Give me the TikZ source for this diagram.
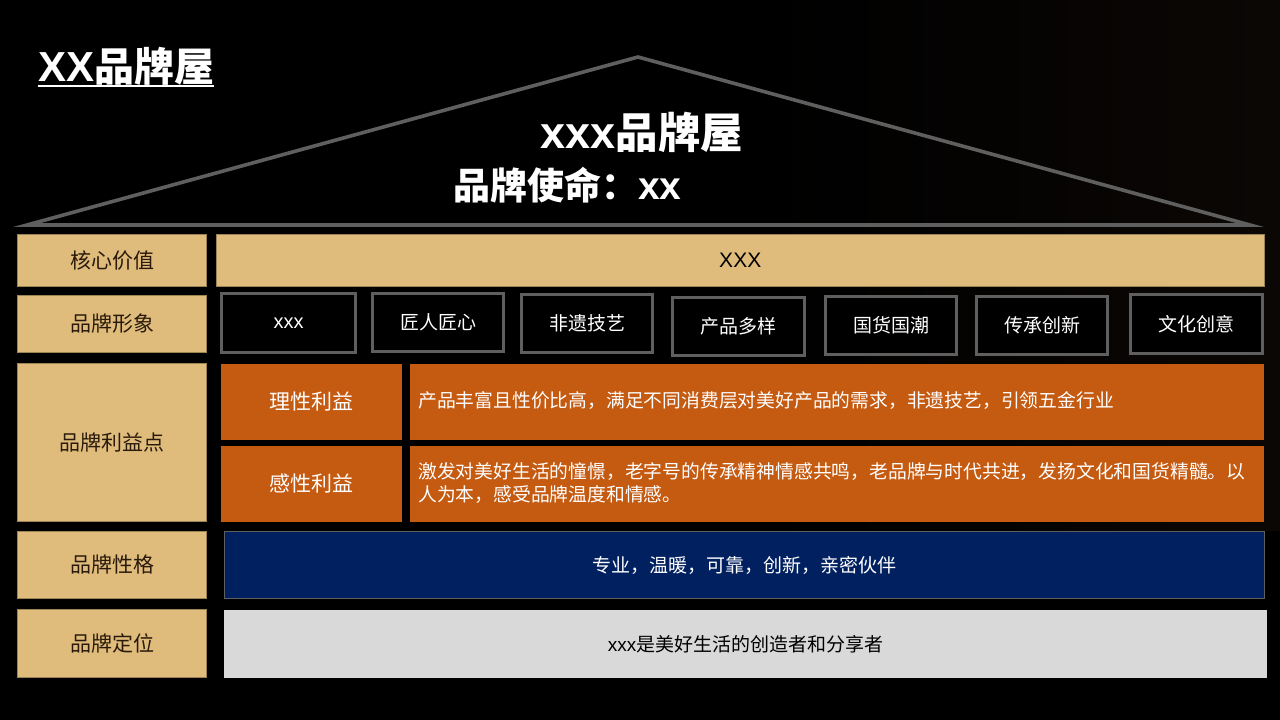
\documentclass[tikz,border=0pt]{standalone}
\usepackage{fontspec}
\setmainfont{Noto Sans CJK SC}
\newfontfamily\lat{Liberation Sans}
\definecolor{tan}{HTML}{DFBC7B}
\definecolor{orng}{HTML}{C55A11}
\definecolor{navy}{HTML}{002060}
\definecolor{lgray}{HTML}{D9D9D9}
\definecolor{edge}{HTML}{5F5F5F}
\definecolor{ink}{HTML}{2A1A0C}
\definecolor{bgr}{HTML}{0B0705}
\newcommand{\fsz}[1]{\fontsize{#1}{#1}\selectfont}
\newcommand{\bx}[7]{\node[#2,minimum width={#5-#3},minimum height={#6-#4}] (#1) at ({(#3+#5)/2},{(#4+#6)/2}) {#7};}
\tikzset{
  base/.style={inner sep=0pt,outer sep=0pt,rectangle},
  tanbox/.style={base,fill=tan,draw=tan!70!black,line width=.6pt,text=ink,font=\fsz{21}},
  imgbox/.style={base,draw=edge,line width=3pt,fill=black,text=white,font=\fsz{19}},
  orbox/.style={base,fill=orng,text=white,font=\fsz{21}},
  navybox/.style={base,fill=navy,draw=edge,line width=.6pt,text=white,font=\fsz{19}},
  graybox/.style={base,fill=lgray,text=black,font=\fsz{19}},
  label/.style={inner sep=0pt,outer sep=0pt,text=white,font=\fsz{#1}\bfseries}
}
\begin{document}
\begin{tikzpicture}[x=1pt,y=-1pt]
\useasboundingbox (0,0) rectangle (1280,720);
\fill[black] (0,0) rectangle (1280,720);
\shade[left color=black,right color=bgr] (755,0) rectangle (1280,530);
% roof
\draw[edge,line width=3.6pt,miter limit=20,line join=miter] (27,225) -- (638,57) -- (1250,225) -- cycle;
% titles
\node[label=40,anchor=base west] (title) at (38,81) {{\lat\fsz{42}\bfseries XX}品牌屋};
\coordinate (ulA) at (38,86);
\coordinate (ulB) at (214,86);
\draw[white,line width=2.5pt] (ulA) -- (ulB);
\node[label=42.5,anchor=center] (main) at (642,132) {{\lat\fsz{45}\bfseries xxx}品牌屋};
\node[label=37,anchor=center] (mission) at (567.5,185) {品牌使命：{\lat\fsz{39}\bfseries xx}};
% left column
\bx{a1}{tanbox}{17.5}{234.5}{206.5}{286.5}{核心价值}
\bx{a2}{tanbox}{17.5}{295.5}{206.5}{352.5}{品牌形象}
\bx{a3}{tanbox}{17.5}{363.5}{206.5}{521.5}{品牌利益点}
\bx{a4}{tanbox}{17.5}{531.5}{206.5}{598.5}{品牌性格}
\bx{a5}{tanbox}{17.5}{609.5}{206.5}{677.5}{品牌定位}
% core value
\bx{core}{tanbox}{216.5}{234.5}{1264}{286.5}{\textcolor{black}{\lat XXX}}
% image
\bx{i1}{imgbox}{221.5}{293.5}{355.5}{352.5}{\raisebox{-1.5pt}{\lat\fsz{20}xxx}}
\bx{i2}{imgbox}{372.5}{293.5}{503.5}{351.5}{匠人匠心}
\bx{i3}{imgbox}{521.5}{294.5}{652.5}{352.5}{非遗技艺}
\bx{i4}{imgbox}{672.5}{297.5}{804.5}{355.5}{产品多样}
\bx{i5}{imgbox}{825.5}{296.5}{956.5}{354.5}{国货国潮}
\bx{i6}{imgbox}{976.5}{296.5}{1107.5}{354.5}{传承创新}
\bx{i7}{imgbox}{1130.5}{294.5}{1262.5}{353.5}{文化创意}
% benefits
\bx{b1}{orbox}{221}{363.5}{402}{440}{理性利益}
\bx{b2}{orbox}{221}{445.5}{402}{522}{感性利益}
\bx{c1}{orbox}{410}{363.5}{1264}{440}{}
\bx{c2}{orbox}{410}{445.5}{1264}{522}{}
\node[inner sep=0pt,anchor=west,text=white,font=\fsz{18.8}] (c1t) at (418,401) {产品丰富且性价比高，满足不同消费层对美好产品的需求，非遗技艺，引领五金行业};
\node[inner sep=0pt,anchor=west,align=left,text=white,font=\fontsize{18.8}{23}\selectfont] (c2t) at (418,483.5) {激发对美好生活的憧憬，老字号的传承精神情感共鸣，老品牌与时代共进，发扬文化和国货精髓。以\\人为本，感受品牌温度和情感。};
% personality & positioning
\bx{p}{navybox}{224.5}{531.5}{1264}{598.5}{专业，温暖，可靠，创新，亲密伙伴}
\bx{q}{graybox}{224}{610}{1267}{677.5}{{\lat xxx}是美好生活的创造者和分享者}
\end{tikzpicture}
\end{document}
